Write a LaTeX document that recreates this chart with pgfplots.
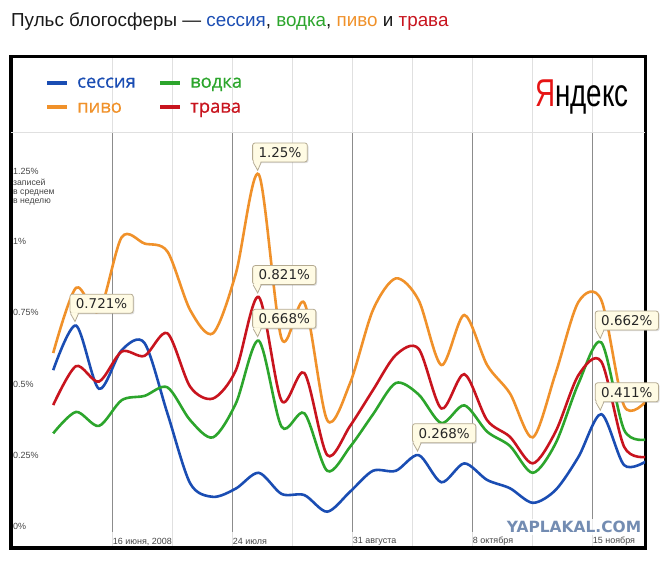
\documentclass[border=0pt]{standalone}
\usepackage{fontspec}
\setmainfont{Liberation Sans}
\newfontfamily\dejavu{DejaVu Sans}
\newfontfamily\opensans[FakeBold=0.6]{Open Sans}
\usepackage{pgfplots}
\usepackage{pgfplotstable}
\pgfplotsset{compat=1.18}
\usetikzlibrary{shadows}

\definecolor{cblue}{RGB}{26,77,179}
\definecolor{cgreen}{RGB}{44,165,44}
\definecolor{corange}{RGB}{240,145,42}
\definecolor{cred}{RGB}{200,20,30}
\definecolor{cream}{RGB}{255,251,228}
\definecolor{cborder}{RGB}{180,170,145}
\definecolor{lgrid}{RGB}{224,224,224}
\definecolor{dgrid}{RGB}{140,140,140}
\definecolor{lbl}{RGB}{70,70,70}
\definecolor{wm}{RGB}{115,140,178}
\definecolor{yared}{RGB}{230,20,20}

\pgfplotstableread{
x     blue  green orange red
53.2  0.565 0.344 0.625 0.443
76.0  0.721 0.419 0.853 0.579
98.9  0.500 0.370 0.770 0.525
121.7 0.635 0.460 1.030 0.630
144.5 0.660 0.475 1.008 0.615
167.4 0.414 0.505 0.980 0.694
190.2 0.169 0.390 0.775 0.507
213.0 0.122 0.330 0.694 0.466
235.9 0.151 0.449 0.904 0.565
258.7 0.206 0.668 1.250 0.821
281.6 0.132 0.367 0.675 0.458
304.4 0.128 0.414 0.800 0.555
327.2 0.070 0.213 0.390 0.268
350.1 0.140 0.297 0.520 0.370
372.9 0.213 0.410 0.775 0.495
395.8 0.213 0.520 0.886 0.618
418.6 0.268 0.480 0.810 0.640
441.4 0.173 0.380 0.583 0.431
464.3 0.239 0.442 0.758 0.551
487.1 0.181 0.350 0.583 0.390
509.9 0.152 0.300 0.484 0.332
532.8 0.101 0.206 0.330 0.239
555.6 0.146 0.309 0.554 0.350
578.5 0.262 0.519 0.804 0.548
601.3 0.411 0.662 0.810 0.595
624.1 0.233 0.356 0.440 0.297
647.0 0.248 0.323 0.460 0.262
}\pulse

\tikzset{cbox/.style={draw=cborder, fill=cream, rounded corners=2.5bp, line width=0.8bp,
  inner xsep=6bp, inner ysep=0pt, minimum height=19bp, text height=9.8bp, text depth=0pt,
  font=\dejavu\fontsize{13.5}{14}\selectfont, text=black!85,
  drop shadow={shadow xshift=1.2bp, shadow yshift=-1.2bp, opacity=0.25}}}

\newcommand\callout[3]{%
  \node[cbox, anchor=south west] (#3) at ([shift={(-6.5bp,12bp)}]#1) {#2};
  \fill[cream] ([shift={(1.5bp,1.2bp)}]#3.south west) -- ([shift={(-1bp,4bp)}]#1) -- ([shift={(8.5bp,1.2bp)}]#3.south west) -- cycle;
  \draw[cborder, line width=0.8bp] ([shift={(1bp,0bp)}]#3.south west) -- ([shift={(-1bp,4bp)}]#1) -- ([shift={(9bp,0bp)}]#3.south west);
}

\begin{document}
\begin{tikzpicture}
\begin{axis}[
  at={(11bp,13bp)}, anchor=south west,
  scale only axis, width=634bp, height=491bp,
  xmin=11, xmax=645, ymin=-0.0570, ymax=1.6604,
  axis line style={black, line width=3bp},
  xtick={112.7,172.7,232.7,292.7,352.7,412.7,472.7,532.7,592.7},
  xticklabels={},
  ytick=\empty,
  major tick length=0pt,
  xmajorgrids,
  major grid style={lgrid, line width=0.9bp},
  clip mode=individual,
]
\draw[lgrid, line width=1bp] (axis cs:11,1.3956) -- (axis cs:645,1.3956);
\draw[dgrid, line width=0.9bp] (axis cs:112.7,0) -- (axis cs:112.7,1.3956);
\draw[dgrid, line width=0.9bp] (axis cs:232.7,0) -- (axis cs:232.7,1.3956);
\draw[dgrid, line width=0.9bp] (axis cs:352.7,0) -- (axis cs:352.7,1.3956);
\draw[dgrid, line width=0.9bp] (axis cs:472.7,0) -- (axis cs:472.7,1.3956);
\draw[dgrid, line width=0.9bp] (axis cs:592.7,0) -- (axis cs:592.7,1.3956);

\addplot[cblue, line width=2.6bp, smooth] table[x=x,y=blue]{\pulse};
\addplot[cgreen, line width=2.6bp, smooth] table[x=x,y=green]{\pulse};
\addplot[corange, line width=2.6bp, smooth] table[x=x,y=orange]{\pulse};
\addplot[cred, line width=2.6bp, smooth] table[x=x,y=red]{\pulse};

\coordinate (p1) at (axis cs:76.0,0.721);
\coordinate (p2) at (axis cs:258.7,1.25);
\coordinate (p3) at (axis cs:258.7,0.821);
\coordinate (p4) at (axis cs:258.7,0.668);
\coordinate (p5) at (axis cs:418.6,0.268);
\coordinate (p6) at (axis cs:601.3,0.662);
\coordinate (p7) at (axis cs:601.3,0.411);
\end{axis}

\callout{p1}{0.721\%}{b1}
\callout{p2}{1.25\%}{b2}
\callout{p3}{0.821\%}{b3}
\callout{p4}{0.668\%}{b4}
\callout{p5}{0.268\%}{b5}
\callout{p6}{0.662\%}{b6}
\callout{p7}{0.411\%}{b7}

\begin{scope}[shift={(0,561bp)}, x=1bp, y=-1bp]
  % title
  \node[anchor=base west, inner sep=0, font=\fontsize{18.9}{20}\selectfont, text=black!90] at (11,26.7)
    {Пульс блогосферы — \textcolor{cblue}{сессия}, \textcolor{cgreen}{водка}, \textcolor{corange}{пиво} и \textcolor{cred}{трава}};
  % legend
  \draw[cblue, line width=3.7bp] (47,83.3) -- (67,83.3);
  \draw[cgreen, line width=3.7bp] (160,83.3) -- (180,83.3);
  \draw[corange, line width=3.7bp] (47,107.3) -- (67,107.3);
  \draw[cred, line width=3.7bp] (160,107.3) -- (180,107.3);
  \node[anchor=base west, inner sep=0, font=\opensans\fontsize{18.5}{20}\selectfont, text=cblue] at (77,87.7) {сессия};
  \node[anchor=base west, inner sep=0, font=\opensans\fontsize{18.5}{20}\selectfont, text=cgreen] at (190,87.7) {водка};
  \node[anchor=base west, inner sep=0, font=\opensans\fontsize{18.5}{20}\selectfont, text=corange] at (77,112.7) {пиво};
  \node[anchor=base west, inner sep=0, font=\opensans\fontsize{18.5}{20}\selectfont, text=cred] at (190,112.7) {трава};
  % logo
  \node[anchor=base west, inner sep=0] at (535,106.7)
    {\scalebox{0.715}[1]{\fontsize{39}{39}\selectfont\textcolor{yared}{Я}\textcolor{black}{ндекс}}};
  % y labels and date labels
  \begin{scope}[every node/.style={anchor=west, inner sep=0, font=\fontsize{9}{9.3}\selectfont, text=lbl}]
    \node at (13,526.7) {0\%};
    \node at (13,455.7) {0.25\%};
    \node at (13,384.2) {0.5\%};
    \node at (13,312.7) {0.75\%};
    \node at (13,241.7) {1\%};
    \node at (13,171.0) {1.25\%};
    \node at (112.7,541.5) {16 июня, 2008};
    \node at (232.7,541.5) {24 июля};
    \node at (352.7,541.5) {31 августа};
    \node at (472.7,541.5) {8 октября};
    \node at (592.7,541.5) {15 ноября};
  \end{scope}
  \node[anchor=north west, inner sep=0, align=left, font=\fontsize{8.7}{9.3}\selectfont, text=lbl] at (13,178.5)
    {записей\\в среднем\\в неделю};
  % watermark
  \fill[white, opacity=0.85] (501,519) rectangle (643,535);
  \node[anchor=center, inner sep=0, font=\dejavu\bfseries\fontsize{15.5}{16}\selectfont, text=wm] at (574,527) {YAPLAKAL.COM};
\end{scope}

\pgfresetboundingbox
\path[use as bounding box] (0,0) rectangle (668bp,561bp);
\end{tikzpicture}
\end{document}
